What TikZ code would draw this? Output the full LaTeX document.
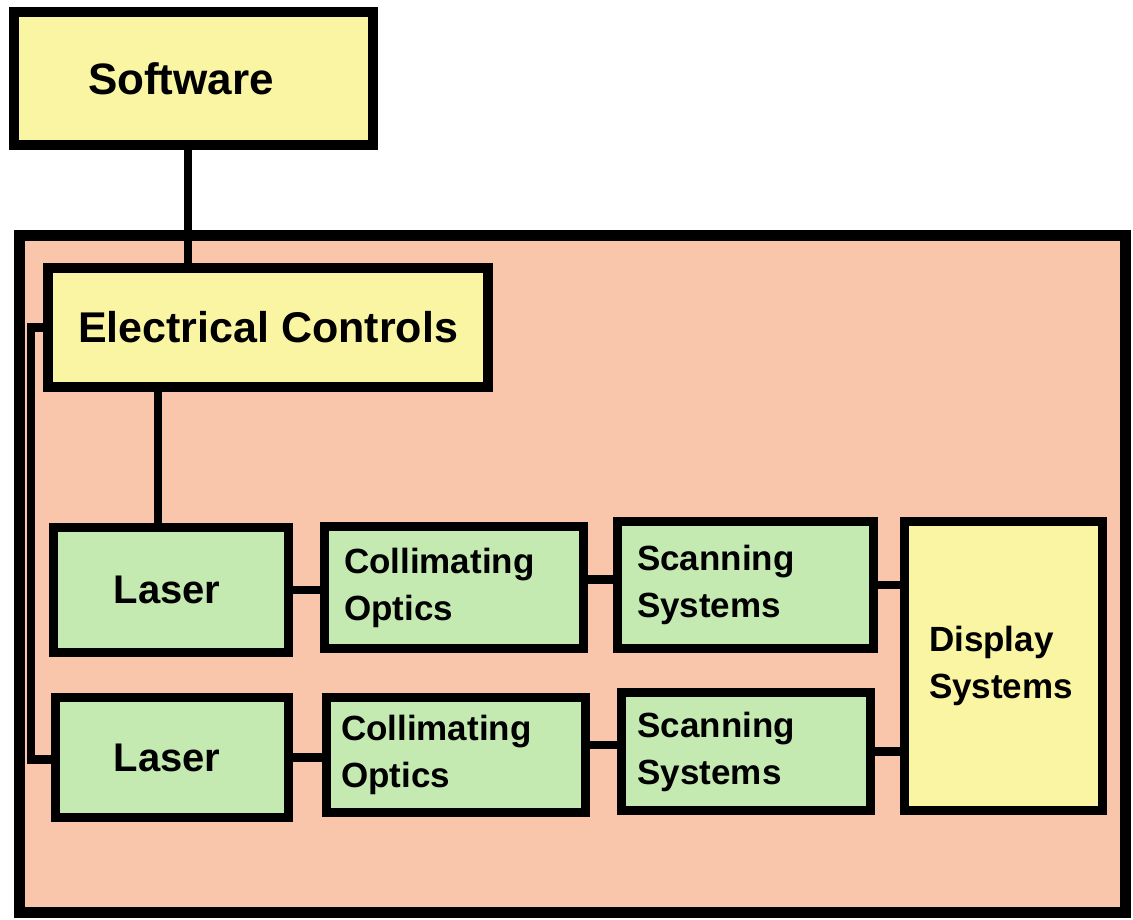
\documentclass[tikz,border=0pt]{standalone}
\usepackage{fontspec}
\setmainfont{Liberation Sans}
\definecolor{boxyellow}{RGB}{249,245,163}
\definecolor{panelsalmon}{RGB}{249,198,172}
\definecolor{boxgreen}{RGB}{196,234,178}
\begin{document}
\begin{tikzpicture}[x=1pt,y=-1pt,
  blk/.style={draw=black, line width=9pt, rectangle, inner sep=0pt, font=\bfseries},
  ybox/.style={blk, fill=boxyellow, line width=10pt},
  gbox/.style={blk, fill=boxgreen},
  twoline/.style={align=left, text width=#1, font=\bfseries\fontsize{35}{47}\selectfont},
  wire/.style={line width=8.5pt, line cap=round}]
\useasboundingbox (0,0) rectangle (1133,920);
% panel
\node[draw=black, line width=11pt, fill=panelsalmon, rectangle, inner sep=0pt,
  minimum width=1106pt, minimum height=677pt] (panel) at (572.5,574) {};
% boxes
\node[ybox, minimum width=359pt, minimum height=133pt,
  font=\bfseries\fontsize{44}{50}\selectfont] (sw) at (193.5,78.5) {\hspace*{-25pt}Software};
\node[ybox, minimum width=440pt, minimum height=119pt,
  font=\bfseries\fontsize{43}{50}\selectfont] (ec) at (268,327.5) {Electrical Controls};
\node[gbox, minimum width=235pt, minimum height=125pt,
  font=\bfseries\fontsize{40}{48}\selectfont] (l1) at (171,590) {\hspace*{-8pt}Laser};
\node[gbox, minimum width=259pt, minimum height=122pt, twoline=220pt] (c1) at (454,587.5) {Collimating\\Optics};
\node[gbox, minimum width=256pt, minimum height=127pt, twoline=217pt] (s1) at (745.5,585) {Scanning\\Systems};
\node[ybox, line width=9pt, minimum width=198pt, minimum height=289pt, twoline=149pt] (d) at (1003.5,666) {Display\\Systems};
\node[gbox, minimum width=233pt, minimum height=120pt,
  font=\bfseries\fontsize{40}{48}\selectfont] (l2) at (172,757.5) {\hspace*{-10pt}Laser};
\node[gbox, minimum width=259pt, minimum height=115pt, twoline=230pt] (c2) at (456,755) {Collimating\\Optics};
\node[gbox, minimum width=249pt, minimum height=118pt, twoline=217pt] (s2) at (746,751.5) {Scanning\\Systems};
% connectors
\draw[wire] ([xshift=-5.5pt]sw.south) -- ([xshift=-5.5pt]sw.south |- ec.north);
\draw[wire] ([xshift=-13pt]l1.north) -- ([xshift=-13pt]l1.north |- ec.south);
\draw[wire] (l1.east) -- (l1.east -| c1.west);
\draw[wire] ([yshift=8pt]c1.east) -- ([yshift=8pt]c1.east -| s1.west);
\draw[wire] (s1.east) -- (s1.east -| d.west);
\draw[wire] (l2.east) -- (l2.east -| c2.west);
\draw[wire] ([yshift=10pt]c2.east) -- ([yshift=10pt]c2.east -| s2.west);
\draw[wire] (s2.east) -- (s2.east -| d.west);
\draw[wire] (ec.west) -| ([xshift=-20pt,yshift=-2pt]l2.west) -- ([yshift=-2pt]l2.west);
\end{tikzpicture}
\end{document}
